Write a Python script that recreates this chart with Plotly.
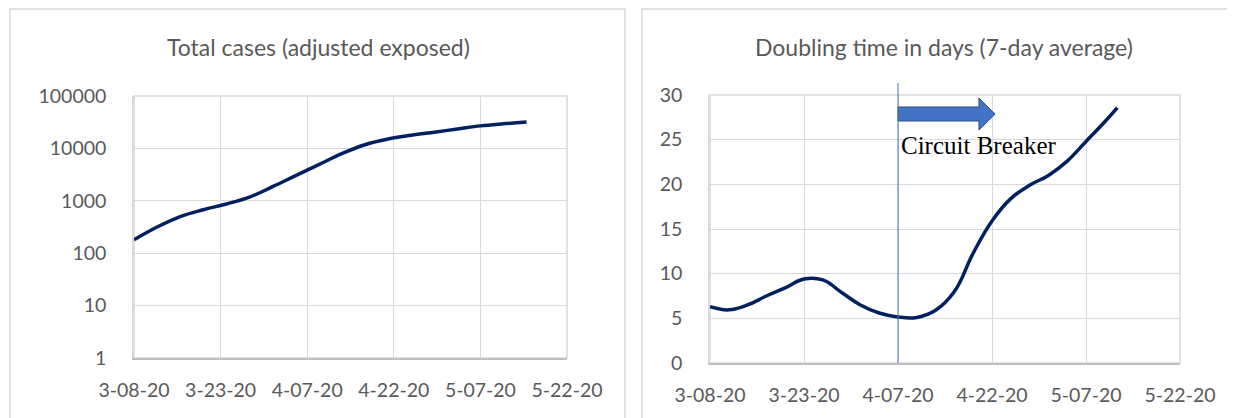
import plotly.graph_objects as go

# ---- data ----
total_dates = ["2020-03-08", "2020-03-12", "2020-03-16", "2020-03-20", "2020-03-24",
               "2020-03-28", "2020-04-01", "2020-04-05", "2020-04-09", "2020-04-13",
               "2020-04-17", "2020-04-21", "2020-04-25", "2020-04-29", "2020-05-03",
               "2020-05-07", "2020-05-11", "2020-05-15"]
total_cases = [180, 316, 500, 676, 870, 1175, 1860, 3020, 4900, 7940, 11750, 15100,
               17800, 20400, 23400, 26900, 29500, 31900]

dbl_dates = ["2020-03-08", "2020-03-11", "2020-03-14", "2020-03-17", "2020-03-20",
             "2020-03-23", "2020-03-26", "2020-03-29", "2020-04-01", "2020-04-04",
             "2020-04-07", "2020-04-10", "2020-04-13", "2020-04-16", "2020-04-19",
             "2020-04-22", "2020-04-25", "2020-04-28", "2020-05-01", "2020-05-04",
             "2020-05-07", "2020-05-10", "2020-05-12"]
dbl_days = [6.3, 5.95, 6.5, 7.5, 8.4, 9.4, 9.3, 7.9, 6.5, 5.6, 5.15, 5.1, 5.9, 8.0,
            12.3, 15.9, 18.4, 19.9, 21.0, 22.6, 24.8, 27.0, 28.6]

x_ticks = ["2020-03-08", "2020-03-23", "2020-04-07", "2020-04-22", "2020-05-07", "2020-05-22"]
log_ticks = [1, 10, 100, 1000, 10000, 100000]
log_labels = ["1", "10", "100", "1000", "10000", "100000"]
lin_ticks = [0, 5, 10, 15, 20, 25, 30]

breaker_date = "2020-04-07"
# block arrow outline (annotation graphic)
arrow_x = ["2020-04-07", "2020-04-19 22:00", "2020-04-19 22:00", "2020-04-22 12:00",
           "2020-04-19 22:00", "2020-04-19 22:00", "2020-04-07", "2020-04-07"]
arrow_y = [28.66, 28.66, 29.66, 27.87, 26.08, 27.09, 27.09, 28.66]

OFF = 8                      # page body margin
W, H = 1235 - OFF, 418 - OFF
LINE = "#002060"
GRID = "#D9D9D9"
TXT = "#595959"
FONT = "Lato"

fig = go.Figure()
fig.add_trace(go.Scatter(x=total_dates, y=total_cases, mode="lines",
                         line=dict(color=LINE, width=3.5, shape="spline", smoothing=1.1),
                         xaxis="x", yaxis="y", showlegend=False, hoverinfo="skip"))
fig.add_trace(go.Scatter(x=dbl_dates, y=dbl_days, mode="lines",
                         line=dict(color=LINE, width=3.5, shape="spline", smoothing=1.2),
                         xaxis="x2", yaxis="y2", showlegend=False, hoverinfo="skip"))
fig.add_trace(go.Scatter(x=arrow_x, y=arrow_y, mode="lines", fill="toself",
                         fillcolor="#4472C4", line=dict(color="#2F528F", width=1),
                         xaxis="x2", yaxis="y2", showlegend=False, hoverinfo="skip"))

def px_x(p):
    return (p - OFF) / W

def px_y(p):
    return 1 - (p - OFF) / H

xcommon = dict(type="date", range=["2020-03-08", "2020-05-22"], tickvals=x_ticks,
               tickformat="%-m-%d-%y", showgrid=True, gridcolor=GRID, gridwidth=1,
               showline=True, linecolor="#BFBFBF", linewidth=1.5, mirror=False,
               ticks="", tickfont=dict(family=FONT, size=19.5, color=TXT),
               ticklabelstandoff=14, zeroline=False, fixedrange=True, automargin=False)

fig.update_layout(
    width=W, height=H, margin=dict(l=0, r=0, t=0, b=0, autoexpand=False),
    paper_bgcolor="white", plot_bgcolor="white",
    xaxis=dict(domain=[px_x(134), px_x(567)], anchor="y", **xcommon),
    yaxis=dict(domain=[px_y(358), px_y(96)], anchor="x", type="log", range=[0, 5],
               tickvals=log_ticks, ticktext=log_labels, showgrid=True, gridcolor=GRID,
               showline=True, linecolor=GRID, linewidth=1.5, ticks="",
               tickfont=dict(family=FONT, size=19.5, color=TXT), ticklabelstandoff=22,
               zeroline=False, fixedrange=True, automargin=False),
    xaxis2=dict(domain=[px_x(710), px_x(1180)], anchor="y2", **xcommon),
    yaxis2=dict(domain=[px_y(363), px_y(95)], anchor="x2", range=[0, 30],
                tickvals=lin_ticks, showgrid=True, gridcolor=GRID,
                showline=True, linecolor=GRID, linewidth=1.5, ticks="",
                tickfont=dict(family=FONT, size=19.5, color=TXT), ticklabelstandoff=22,
                zeroline=False, fixedrange=True, automargin=False),
)

# right/top plot borders (gridline-coloured box)
for xr, yr in (("x", "y"), ("x2", "y2")):
    fig.add_shape(type="rect", xref=f"{xr} domain", yref=f"{yr} domain",
                  x0=0, x1=1, y0=0, y1=1, line=dict(color=GRID, width=1.5), layer="below")

# panel frames
fig.add_shape(type="rect", xref="paper", yref="paper", x0=px_x(10), x1=px_x(625),
              y0=-0.05, y1=px_y(9), line=dict(color="#D9D9D9", width=1.5))
fig.add_shape(type="rect", xref="paper", yref="paper", x0=px_x(642), x1=1.05,
              y0=-0.05, y1=px_y(9), line=dict(color="#D9D9D9", width=1.5))

# circuit breaker line
fig.add_shape(type="line", xref="x2", yref="y2 domain", x0=breaker_date, x1=breaker_date,
              y0=0, y1=1.045, line=dict(color="#4472C4", width=1))

fig.add_annotation(x=breaker_date, y=24.3, xref="x2", yref="y2", text="Circuit Breaker",
                   showarrow=False, xanchor="left", yanchor="middle", xshift=1,
                   font=dict(family="Liberation Serif", size=25, color="black"))

fig.add_annotation(x=px_x(318), y=px_y(47), xref="paper", yref="paper",
                   text="Total cases (adjusted exposed)", showarrow=False,
                   xanchor="center", yanchor="middle",
                   font=dict(family=FONT, size=23, color=TXT))
fig.add_annotation(x=px_x(944), y=px_y(47), xref="paper", yref="paper",
                   text="Doubling time in days (7-day average)", showarrow=False,
                   xanchor="center", yanchor="middle",
                   font=dict(family=FONT, size=23, color=TXT))

fig.write_html("out.html")
